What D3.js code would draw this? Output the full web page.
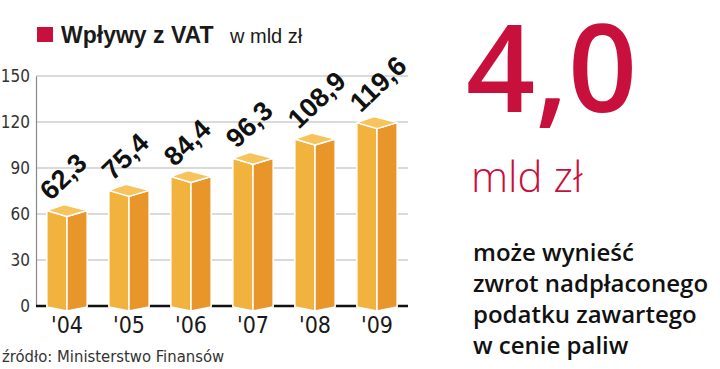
<!DOCTYPE html>
<html>
<head>
<meta charset="utf-8">
<script src="https://cdn.jsdelivr.net/npm/d3@7"></script>
<style>
  body { margin: 0; background: #fff; }
  svg { display: block; }
</style>
</head>
<body>
<div class="chart"></div>
<script>
// Data
const years = ["'04", "'05", "'06", "'07", "'08", "'09"];
const vatValues = [62.3, 75.4, 84.4, 96.3, 108.9, 119.6];
const valueLabels = ['62,3', '75,4', '84,4', '96,3', '108,9', '119,6'];
const yTicks = [0, 30, 60, 90, 120, 150];
const noteLines = ['może wynieść', 'zwrot nadpłaconego', 'podatku zawartego', 'w cenie paliw'];

const width = 720, height = 369;
const red = '#c8103c';
const narrow = '"Liberation Sans Narrow", "DejaVu Sans Condensed", "Arial Narrow", sans-serif';

const svg = d3.select('.chart')
  .append('svg')
  .attr('width', width)
  .attr('height', height);

// Scales
const x = d3.scaleBand().domain(years).range([36, 408]).paddingInner(0.35).paddingOuter(0.175);
const y = d3.scaleLinear().domain([0, 150]).range([306, 76]);

// Title
svg.append('rect').attr('x', 37).attr('y', 27).attr('width', 16).attr('height', 15).attr('fill', red);
svg.append('text').attr('x', 61).attr('y', 43)
  .attr('font-family', 'Liberation Sans, Arial, sans-serif')
  .attr('font-weight', 'bold').attr('font-size', 23).attr('fill', '#1a1a1a')
  .text('Wpływy z VAT');
svg.append('text').attr('x', 230).attr('y', 43)
  .attr('font-family', 'Liberation Sans, Arial, sans-serif')
  .attr('font-size', 20).attr('fill', '#1a1a1a')
  .text('w mld zł');

// Gridlines
svg.append('g')
  .selectAll('line')
  .data(yTicks.filter(d => d > 0))
  .enter().append('line')
  .attr('x1', 36).attr('x2', 408)
  .attr('y1', d => y(d)).attr('y2', d => y(d))
  .attr('stroke', '#b5b5b5').attr('stroke-width', 1.2);

// Y axis
const yAxis = svg.append('g')
  .attr('transform', 'translate(36,0)')
  .call(d3.axisLeft(y).tickValues(yTicks).tickSize(0).tickPadding(6));
yAxis.select('.domain').attr('stroke', '#888').attr('stroke-width', 1.2);
yAxis.selectAll('text')
  .attr('font-family', narrow).attr('font-size', 17).attr('fill', '#333');

// Baseline
svg.append('line')
  .attr('x1', 36).attr('x2', 408)
  .attr('y1', y(0)).attr('y2', y(0))
  .attr('stroke', '#111').attr('stroke-width', 2.5);

// Bars (3D prisms)
const bw = x.bandwidth();
const bars = svg.selectAll('.bar')
  .data(vatValues)
  .enter().append('g')
  .attr('class', 'bar');

const left = (d, i) => x(years[i]);
const mid = (d, i) => x(years[i]) + bw / 2;
const right = (d, i) => x(years[i]) + bw;
const base = y(0) + 1;

bars.append('path')
  .attr('d', (d, i) => `M${left(d, i)},${y(d)} L${mid(d, i)},${y(d) + 6} L${mid(d, i)},${base + 4} L${left(d, i)},${base} Z`)
  .attr('fill', '#f2b23e').attr('stroke', '#fff').attr('stroke-width', 1.5).attr('stroke-linejoin', 'round');
bars.append('path')
  .attr('d', (d, i) => `M${mid(d, i)},${y(d) + 6} L${right(d, i)},${y(d)} L${right(d, i)},${base} L${mid(d, i)},${base + 4} Z`)
  .attr('fill', '#e8962a').attr('stroke', '#fff').attr('stroke-width', 1.5).attr('stroke-linejoin', 'round');
bars.append('path')
  .attr('d', (d, i) => `M${left(d, i)},${y(d)} L${mid(d, i) - 3},${y(d) - 6} L${right(d, i)},${y(d)} L${mid(d, i)},${y(d) + 6} Z`)
  .attr('fill', '#f6c35c').attr('stroke', '#fff').attr('stroke-width', 1.5).attr('stroke-linejoin', 'round');

// Value labels
bars.append('text')
  .attr('transform', (d, i) => `translate(${left(d, i) + 4},${y(d) - 9}) rotate(-44)`)
  .attr('font-family', 'Liberation Sans, Arial, sans-serif')
  .attr('font-weight', 'bold').attr('font-size', 27).attr('fill', '#111')
  .text((d, i) => valueLabels[i]);

// X axis labels
svg.append('g')
  .selectAll('text')
  .data(years)
  .enter().append('text')
  .attr('x', d => x(d) + bw / 2)
  .attr('y', 333)
  .attr('text-anchor', 'middle')
  .attr('font-family', narrow).attr('font-size', 23).attr('fill', '#1a1a1a')
  .text(d => d);

// Source
svg.append('text').attr('x', 2).attr('y', 362)
  .attr('font-family', narrow).attr('font-size', 16.5).attr('fill', '#333')
  .text('źródło: Ministerstwo Finansów');

// Right side
svg.append('text').attr('x', 466).attr('y', 112)
  .attr('font-family', 'Open Sans, sans-serif').attr('font-weight', 600)
  .attr('font-size', 121).attr('fill', red)
  .text('4,0');
svg.append('text').attr('x', 471).attr('y', 192)
  .attr('font-family', 'Open Sans, sans-serif').attr('font-weight', 300)
  .attr('font-size', 42).attr('fill', red)
  .text('mld zł');
svg.append('g')
  .selectAll('text')
  .data(noteLines)
  .enter().append('text')
  .attr('x', 473)
  .attr('y', (d, i) => 261 + i * 31)
  .attr('font-family', 'Open Sans, sans-serif').attr('font-weight', 600)
  .attr('font-size', 24).attr('fill', '#111')
  .text(d => d);
</script>
</body>
</html>
